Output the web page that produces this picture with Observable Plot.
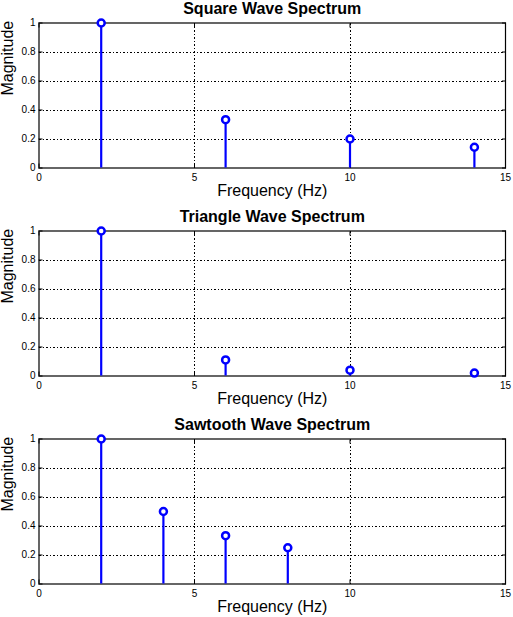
<!DOCTYPE html>
<html>
<head>
<meta charset="utf-8">
<script src="https://cdn.jsdelivr.net/npm/d3@7"></script>
<script src="https://cdn.jsdelivr.net/npm/@observablehq/plot@0.6"></script>
<style>
  body { margin: 0; background: #fff; }
  #chart svg { display: block; }
</style>
</head>
<body>
<div id="chart"></div>
<script>
const titles = ["Square Wave Spectrum", "Triangle Wave Spectrum", "Sawtooth Wave Spectrum"];
const squareFreq = [2, 6, 10, 14];
const squareMag = [1, 0.333, 0.2, 0.143];
const triangleFreq = [2, 6, 10, 14];
const triangleMag = [1, 0.111, 0.04, 0.02];
const sawtoothFreq = [2, 4, 6, 8];
const sawtoothMag = [1, 0.5, 0.333, 0.25];
const xTicks = [0, 5, 10, 15];
const yTicks = [0, 0.2, 0.4, 0.6, 0.8, 1];
const xGrid = [5, 10];
const yGrid = [0.2, 0.4, 0.6, 0.8];
const xLabel = "Frequency (Hz)";
const yLabel = "Magnitude";

const series = [
  [squareFreq, squareMag],
  [triangleFreq, triangleMag],
  [sawtoothFreq, sawtoothMag]
];

const BLUE = "#0000ff";
const FONT = "'Liberation Sans', Arial, Helvetica, sans-serif";
const dash = "2,2,1,2";

series.forEach(([f, m], i) => {
  const data = f.map((x, j) => ({f: x, m: m[j]}));
  const last = i === series.length - 1;
  const h = last ? 201 : 208;
  const chart = Plot.plot({
    width: 513,
    height: h,
    marginLeft: 38.5,
    marginRight: 8,
    marginTop: 22.5,
    marginBottom: h - 22.5 - 145,
    style: {fontFamily: FONT, background: "#fff", overflow: "visible", color: "#000"},
    x: {domain: [0, 15]},
    y: {domain: [0, 1]},
    marks: [
      Plot.gridX(xGrid, {stroke: "#000", strokeOpacity: 1, strokeDasharray: dash, shapeRendering: "crispEdges"}),
      Plot.gridY(yGrid, {stroke: "#000", strokeOpacity: 1, strokeDasharray: dash, shapeRendering: "crispEdges"}),
      Plot.axisX(xTicks, {tickSize: -4, fill: "none", label: null, stroke: "#000"}),
      Plot.axisX(xTicks, {anchor: "top", tickSize: -4, fill: "none", label: null, stroke: "#000"}),
      Plot.axisY(yTicks, {tickSize: -4, fill: "none", label: null, stroke: "#000"}),
      Plot.axisY(yTicks, {anchor: "right", tickSize: -4, fill: "none", label: null, stroke: "#000"}),
      Plot.axisX(xTicks, {tickSize: 0, tickPadding: 6, fontSize: 10, label: null, tickFormat: d => String(d), fill: "#000"}),
      Plot.axisY(yTicks, {tickSize: 0, tickPadding: 3.5, fontSize: 10, label: null, tickFormat: d => String(d), fill: "#000"}),
      Plot.frame({stroke: "#000", strokeWidth: 1.2}),
      Plot.ruleX(data, {x: "f", y1: 0, y2: "m", stroke: BLUE, strokeWidth: 2.2}),
      Plot.dot(data, {x: "f", y: "m", r: 3.5, stroke: BLUE, strokeWidth: 2.5, fill: "#fff"}),
      Plot.text([titles[i]], {frameAnchor: "top", dy: -14.5, lineAnchor: "middle", fontSize: 16, fontWeight: "bold", fill: "#000"}),
      Plot.text([xLabel], {frameAnchor: "bottom", dy: 23, lineAnchor: "middle", fontSize: 16, fill: "#000"}),
      Plot.text([yLabel], {frameAnchor: "left", dx: -31, rotate: -90, lineAnchor: "middle", fontSize: 16, fill: "#000"})
    ]
  });
  document.getElementById("chart").appendChild(chart);
});
</script>
</body>
</html>
